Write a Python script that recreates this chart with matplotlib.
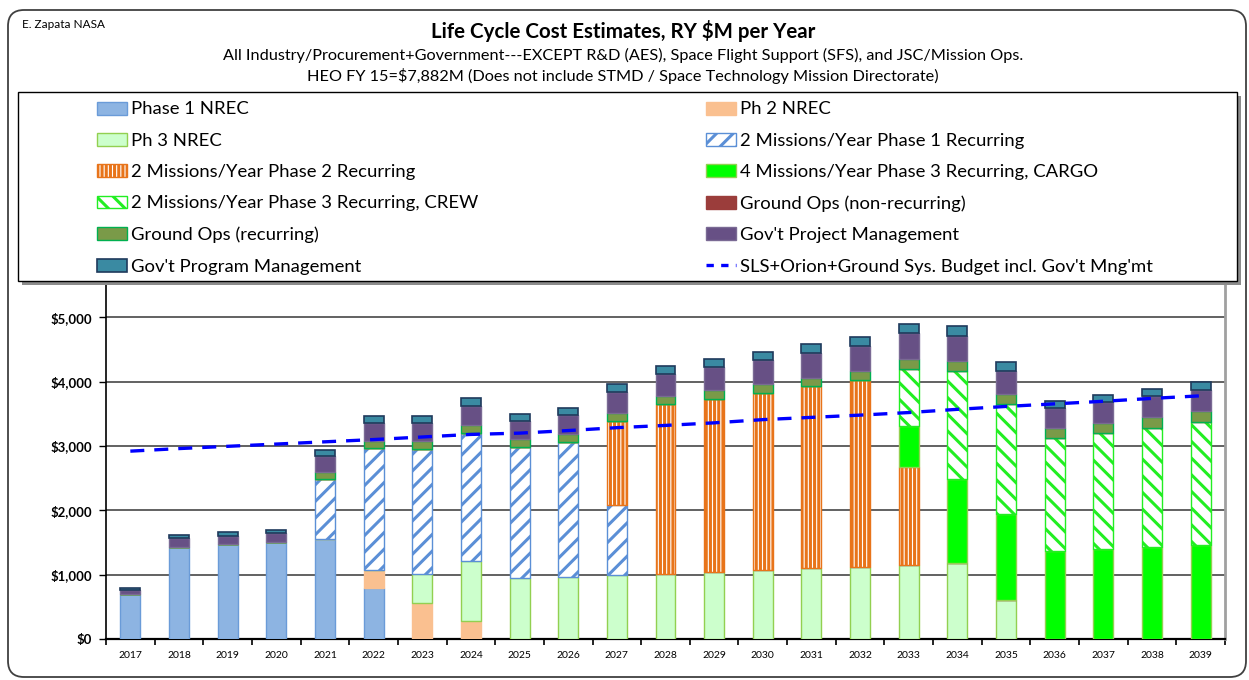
import numpy as np
import matplotlib
matplotlib.use("Agg")
import matplotlib.pyplot as plt
from matplotlib.patches import Patch, FancyBboxPatch, Rectangle
from matplotlib.lines import Line2D
from matplotlib.ticker import FuncFormatter, FixedLocator

plt.rcParams['font.family'] = ['Lato', 'DejaVu Sans']
plt.rcParams['hatch.linewidth'] = 2.2

years = [str(y) for y in range(2017, 2040)]

ph1_nrec = [694, 1435, 1470, 1508, 1554, 788, 0, 0, 0, 0, 0, 0, 0, 0, 0, 0, 0, 0, 0, 0, 0, 0, 0]
ph2_nrec = [0, 0, 0, 0, 0, 280, 560, 285, 0, 0, 0, 0, 0, 0, 0, 0, 0, 0, 0, 0, 0, 0, 0]
ph3_nrec = [0, 0, 0, 0, 0, 0, 450, 927, 943, 969, 995, 1016, 1041, 1067, 1098, 1124, 1150, 1181, 606, 0, 0, 0, 0]
ph1_rec = [0, 0, 0, 0, 933, 1897, 1943, 1990, 2041, 2088, 1083, 0, 0, 0, 0, 0, 0, 0, 0, 0, 0, 0, 0]
ph2_rec = [0, 0, 0, 0, 0, 0, 0, 0, 0, 0, 1311, 2632, 2695, 2757, 2829, 2897, 1518, 0, 0, 0, 0, 0, 0]
cargo = [0, 0, 0, 0, 0, 0, 0, 0, 0, 0, 0, 0, 0, 0, 0, 0, 643, 1306, 1332, 1363, 1404, 1430, 1466]
crew = [0, 0, 0, 0, 0, 0, 0, 0, 0, 0, 0, 0, 0, 0, 0, 0, 891, 1679, 1720, 1761, 1793, 1855, 1902]
ground_nonrec = [0] * 23
ground_rec = [0, 0, 0, 0, 115, 114, 120, 119, 120, 124, 124, 129, 140, 145, 135, 150, 150, 155, 155, 161, 166, 171, 171]
proj_mgmt = [62, 140, 135, 140, 245, 280, 285, 306, 285, 301, 332, 347, 352, 368, 384, 378, 399, 394, 353, 300, 321, 316, 326]
prog_mgmt = [37, 45, 55, 52, 88, 109, 104, 114, 108, 104, 114, 125, 130, 129, 134, 140, 145, 145, 135, 114, 114, 119, 125]
budget = [2920, 2960, 2995, 3030, 3065, 3100, 3140, 3180, 3200, 3240, 3285, 3320, 3360, 3410,
          3445, 3480, 3520, 3570, 3615, 3655, 3695, 3740, 3780]

series = [
    ("Phase 1 NREC", ph1_nrec, dict(facecolor="#8db4e2", edgecolor="#6a9bd8", hatch=None, lw=1.0)),
    ("Ph 2 NREC", ph2_nrec, dict(facecolor="#fac090", edgecolor="#fac090", hatch=None, lw=1.0)),
    ("Ph 3 NREC", ph3_nrec, dict(facecolor="#ccffcc", edgecolor="#92d050", hatch=None, lw=1.0)),
    ("2 Missions/Year Phase 1 Recurring", ph1_rec, dict(facecolor="white", edgecolor="#5b8fd6", hatch="//", lw=1.0)),
    ("2 Missions/Year Phase 2 Recurring", ph2_rec, dict(facecolor="white", edgecolor="#e8741a", hatch="||||", lw=1.0)),
    ("4 Missions/Year Phase 3 Recurring, CARGO", cargo, dict(facecolor="#00ff00", edgecolor="#92d050", hatch=None, lw=1.0)),
    ("2 Missions/Year Phase 3 Recurring, CREW", crew, dict(facecolor="white", edgecolor="#22ee22", hatch="\\\\", lw=1.0)),
    ("Ground Ops (non-recurring)", ground_nonrec, dict(facecolor="#9b3d3b", edgecolor="#9b3d3b", hatch=None, lw=1.0)),
    ("Ground Ops (recurring)", ground_rec, dict(facecolor="#7a9a48", edgecolor="#00b050", hatch=None, lw=1.0)),
    ("Gov't Project Management", proj_mgmt, dict(facecolor="#675085", edgecolor="#7a6a94", hatch=None, lw=1.0)),
    ("Gov't Program Management", prog_mgmt, dict(facecolor="#3a8aa2", edgecolor="#1f3a5c", hatch=None, lw=1.2)),
]
budget_label = "SLS+Orion+Ground Sys. Budget incl. Gov't Mng'mt"

W, H = 1249, 680
fig = plt.figure(figsize=(W / 100, H / 100), dpi=100)

# outer rounded border
fig.patches.append(FancyBboxPatch((8, 3), 1238, 667, boxstyle="round,pad=0,rounding_size=16",
                                  transform=None, facecolor="white", edgecolor="#404040", lw=1.3, zorder=-5))

ax = fig.add_axes([106 / W, 1 - 639 / H, (1225 - 106) / W, (639 - 253) / H])
x = np.arange(len(years))
bottom = np.zeros(len(years))
handles = {}
for name, vals, st in series:
    v = np.array(vals, dtype=float)
    ax.bar(x, v, 0.41, bottom=bottom, facecolor=st["facecolor"], edgecolor=st["edgecolor"],
           hatch=st["hatch"], linewidth=st["lw"], zorder=3)
    bottom += v
    handles[name] = Patch(facecolor=st["facecolor"], edgecolor=st["edgecolor"], hatch=st["hatch"],
                          linewidth=st["lw"], label=name)

ax.plot(x, budget, color="#0000ff", lw=2.4, dashes=(4.2, 3.0), zorder=4)
handles[budget_label] = Line2D([], [], color="#0000ff", lw=2.4, dashes=(2.2, 2.2), label=budget_label)

ax.set_xlim(-0.5, len(years) - 0.5)
ax.set_ylim(0, 6000)
ax.set_yticks([0, 1000, 2000, 3000, 4000, 5000])
ax.yaxis.set_major_formatter(FuncFormatter(lambda v, p: "${:,.0f}".format(v)))
ax.grid(axis="y", color="#555555", lw=1.3, zorder=1)
ax.set_axisbelow(True)
ax.set_xticks(x)
ax.set_xticklabels(years, fontsize=7.5)
ax.tick_params(axis="x", which="major", length=0, pad=9)
ax.xaxis.set_minor_locator(FixedLocator(np.arange(-0.5, len(years), 1.0)))
ax.tick_params(axis="x", which="minor", length=4, width=1.2, direction="out")
ax.tick_params(axis="y", length=5, width=1.0, pad=5)
for lab in ax.get_yticklabels():
    lab.set_fontweight("bold")
    lab.set_fontsize(9.5)
ax.spines["top"].set_visible(False)
ax.spines["left"].set_color("black")
ax.spines["left"].set_linewidth(1.2)
ax.spines["bottom"].set_color("black")
ax.spines["bottom"].set_linewidth(1.6)
ax.spines["right"].set_color("#a0a0a0")
ax.spines["right"].set_linewidth(2.0)

# legend frame with shadow
lx0, lx1, ly_top, ly_bot = 18, 1237, 92, 281
fig.patches.append(Rectangle((lx0 + 4, H - ly_bot - 4), lx1 - lx0, ly_bot - ly_top, transform=None,
                             facecolor="#8c8c8c", edgecolor="none", zorder=8))
fig.patches.append(Rectangle((lx0, H - ly_bot), lx1 - lx0, ly_bot - ly_top, transform=None,
                             facecolor="white", edgecolor="black", lw=1.0, zorder=9))

col1 = ["Phase 1 NREC", "Ph 3 NREC", "2 Missions/Year Phase 2 Recurring",
        "2 Missions/Year Phase 3 Recurring, CREW", "Ground Ops (recurring)", "Gov't Program Management"]
col2 = ["Ph 2 NREC", "2 Missions/Year Phase 1 Recurring", "4 Missions/Year Phase 3 Recurring, CARGO",
        "Ground Ops (non-recurring)", "Gov't Project Management", budget_label]
for cols, xpos in ((col1, 97), (col2, 706)):
    leg = fig.legend([handles[n] for n in cols], cols, loc="upper left",
                     bbox_to_anchor=(xpos / W, 1 - 101.5 / H), frameon=False, fontsize=13.3,
                     handlelength=1.6, handleheight=0.7, handletextpad=0.22,
                     labelspacing=0.83, borderpad=0, borderaxespad=0)
    leg.set_zorder(10)

fig.text(22 / W, 1 - 25 / H, "E. Zapata NASA", fontsize=8.5, ha="left", va="center")
fig.text(623 / W, 1 - 31 / H, "Life Cycle Cost Estimates, RY $M per Year", fontsize=14.8,
         fontweight="bold", ha="center", va="center")
fig.text(623 / W, 1 - 55 / H,
         "All Industry/Procurement+Government---EXCEPT R&D (AES), Space Flight Support (SFS), and JSC/Mission Ops.",
         fontsize=11.7, ha="center", va="center")
fig.text(623 / W, 1 - 76 / H,
         "HEO FY 15=$7,882M (Does not include STMD / Space Technology Mission Directorate)",
         fontsize=11.7, ha="center", va="center")

fig.savefig("out.png", dpi=100)
